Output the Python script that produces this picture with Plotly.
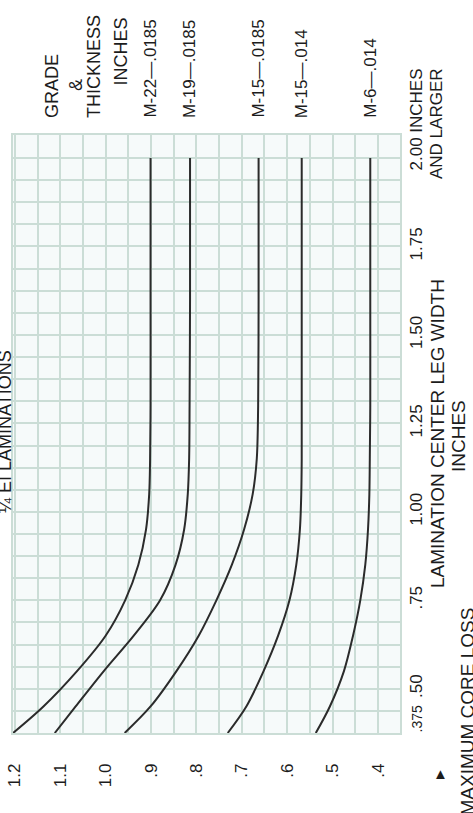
import plotly.graph_objects as go

# ---- data ----
leg_width = [0.375, 0.45, 0.55, 0.65, 0.75, 0.85, 0.95, 1.05, 1.15, 1.3, 1.6, 2.0]
m22_0185 = [1.204, 1.137, 1.063, 1.000, 0.957, 0.928, 0.911, 0.904, 0.902, 0.901, 0.901, 0.901]
m19_0185 = [1.112, 1.066, 1.004, 0.938, 0.880, 0.846, 0.827, 0.819, 0.816, 0.815, 0.814, 0.814]
m15_0185 = [0.958, 0.901, 0.844, 0.795, 0.756, 0.722, 0.695, 0.676, 0.667, 0.664, 0.663, 0.663]
m15_014 = [0.731, 0.690, 0.652, 0.620, 0.595, 0.580, 0.572, 0.569, 0.568, 0.568, 0.568, 0.568]
m6_014 = [0.537, 0.506, 0.475, 0.455, 0.439, 0.428, 0.422, 0.419, 0.418, 0.417, 0.417, 0.417]

grades = ["M-22—.0185", "M-19—.0185", "M-15—.0185", "M-15—.014", "M-6—.014"]
series = [m22_0185, m19_0185, m15_0185, m15_014, m6_014]

loss_ticks = [1.2, 1.1, 1.0, 0.9, 0.8, 0.7, 0.6, 0.5, 0.4]
loss_labels = ["1.2", "1.1", "1.0", ".9", ".8", ".7", ".6", ".5", ".4"]
width_ticks = [0.5, 0.75, 1.0, 1.25, 1.5, 1.75]
width_labels = [".50", ".75", "1.00", "1.25", "1.50", "1.75"]

FONT = "Liberation Sans, Arial, sans-serif"
INK = "#1c1c1c"
GRID = "#cbddd6"

fig = go.Figure()
for name, vals in zip(grades, series):
    fig.add_trace(go.Scatter(
        x=vals, y=leg_width, mode="lines", name=name,
        line=dict(color="#2b2b2b", width=2, shape="spline", smoothing=0.9),
        showlegend=False, hoverinfo="skip"))

L, R, T, B = 13, 73, 135, 80
W, H = 473, 813
pw, ph = W - L - R, H - T - B


def px(xp):
    return (xp - L) / pw


def py(yp):
    return (H - B - yp) / ph


ann = []


def add(text, x, y, xanchor="center", yanchor="middle", size=17, xref="paper", yref="paper",
        angle=-90):
    ann.append(dict(text=text, x=x, y=y, xref=xref, yref=yref, xanchor=xanchor, yanchor=yanchor,
                    textangle=angle, showarrow=False, align="center",
                    font=dict(family=FONT, size=size, color=INK)))


# header labels
add("GRADE", px(52), py(120), yanchor="bottom", size=18)
add("&amp;", px(76), py(85), size=18)
add("THICKNESS", px(94.5), py(120), yanchor="bottom", size=18)
add("INCHES", px(120.5), py(16), yanchor="top", size=18)

# curve labels at flat-end value
for name, vals in zip(grades, series):
    add(name, vals[-1], py(120), xref="x", yanchor="bottom", size=17)

# leg width extra labels
add(".375", px(416), py(734), yanchor="bottom", size=14)
add("2.00 INCHES", px(416.5), py(173), yanchor="bottom", size=17)
add("AND LARGER", px(437), py(124), size=17)

# axis title
add("LAMINATION CENTER LEG WIDTH", px(437), py(434), size=19)
add("INCHES", px(458), py(436), size=19)

# core loss title and arrow
add("MAXIMUM CORE LOSS", px(466.5), py(818), yanchor="bottom", size=19)
add("▲", px(441), py(773), size=15, angle=0)

# clipped chart title at left edge
add("¼ EI LAMINATIONS", px(5), py(432), size=18)

fig.update_layout(
    width=W, height=H,
    margin=dict(l=L, r=R, t=T, b=B, pad=0, autoexpand=False),
    paper_bgcolor="white",
    plot_bgcolor="#f6fafa",
    annotations=ann,
    xaxis=dict(
        range=[1.204, 0.3515],
        tickvals=loss_ticks, ticktext=loss_labels, tickangle=-90,
        tickfont=dict(family=FONT, size=17, color=INK),
        ticks="", ticklabelstandoff=22, automargin=False,
        showgrid=True, gridcolor=GRID, gridwidth=1.5,
        minor=dict(dtick=0.05, tick0=0.0, showgrid=True, gridcolor=GRID, gridwidth=1.5),
        zeroline=False, showline=True, linecolor=GRID, linewidth=1.5, mirror=True,
    ),
    yaxis=dict(
        range=[0.375, 2.065], side="right",
        tickvals=width_ticks, ticktext=width_labels, tickangle=-90,
        tickfont=dict(family=FONT, size=17, color=INK),
        ticks="", ticklabelstandoff=0, automargin=False,
        showgrid=True, gridcolor=GRID, gridwidth=1.5,
        minor=dict(dtick=0.0625, tick0=0.375, showgrid=True, gridcolor=GRID, gridwidth=1.5),
        zeroline=False, showline=True, linecolor=GRID, linewidth=1.5, mirror=True,
    ),
)

fig.write_html("out.html", config={"displayModeBar": False},
               post_script="document.body.style.margin='0';document.body.style.overflow='hidden';")
